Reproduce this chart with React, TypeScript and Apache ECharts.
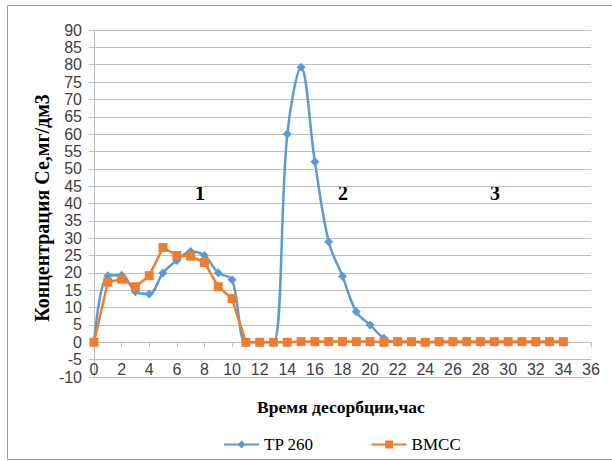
import React, { useEffect, useRef } from "react";
import * as echarts from "echarts";

const hours = [0, 1, 2, 3, 4, 5, 6, 7, 8, 9, 10, 11, 12, 13, 14, 15, 16, 17, 18, 19, 20, 21, 22, 23, 24, 25, 26, 27, 28, 29, 30, 31, 32, 33, 34];
const tp260 = [0, 19.2, 19.3, 14.6, 13.9, 20, 23.6, 26.2, 25, 20, 18, 0, 0, 0, 60, 79.3, 52, 29, 19, 8.8, 5, 1.2, 0, 0, 0, 0, 0, 0, 0, 0, 0, 0, 0, 0, 0];
const bmcc = [0, 17.3, 18.2, 16, 19.2, 27.3, 25, 24.8, 23, 16, 12.6, 0, 0, 0, 0, 0.2, 0.2, 0.2, 0.2, 0.2, 0.2, 0, 0.2, 0.2, 0, 0.2, 0.2, 0.2, 0.2, 0.2, 0.2, 0.2, 0.2, 0.2, 0.2];
const seriesNames = ["TP 260", "BMCC"];
const zoneLabels = ["1", "2", "3"];
const xTitle = "Время десорбции,час";
const yTitle = "Концентрация Се,мг/дм3";

export default function App() {
  const ref = useRef<HTMLDivElement>(null);
  useEffect(() => {
    if (!ref.current) return;
    const chart = echarts.init(ref.current, null, { renderer: "svg" });
    const gray = "#BFBFBF";
    const labelFont = { fontFamily: "Liberation Sans", fontSize: 16, color: "#404040" };
    chart.setOption({
      animation: false,
      backgroundColor: "#fff",
      textStyle: { fontFamily: "Liberation Serif" },
      grid: { left: 94, right: 21, top: 30, bottom: 84, containLabel: false },
      xAxis: {
        type: "value",
        min: 0,
        max: 36,
        interval: 2,
        axisLine: { show: true, onZero: true, lineStyle: { color: gray, width: 1 } },
        axisTick: { show: true, inside: false, length: 5, lineStyle: { color: gray } },
        axisLabel: { ...labelFont, margin: -16 },
        splitLine: { show: false },
      },
      yAxis: {
        type: "value",
        min: -10,
        max: 90,
        interval: 5,
        axisLine: { show: true, lineStyle: { color: gray, width: 1 } },
        axisTick: { show: true, inside: false, length: 5, lineStyle: { color: gray } },
        axisLabel: { ...labelFont, margin: 12 },
        splitLine: { show: true, lineStyle: { color: gray, width: 1 } },
      },
      legend: {
        left: 218,
        top: 431,
        itemWidth: 35,
        itemHeight: 10,
        itemGap: 57,
        textStyle: { fontFamily: "Liberation Serif", fontSize: 17, color: "#000" },
        data: seriesNames,
      },
      series: [
        {
          name: seriesNames[0],
          type: "line",
          data: hours.map((h, i) => [h, tp260[i]]),
          smooth: 0.35,
          symbol: "diamond",
          symbolSize: 9,
          itemStyle: { color: "#5B9BD5" },
          lineStyle: { color: "#5B9BD5", width: 2.5 },
        },
        {
          name: seriesNames[1],
          type: "line",
          data: hours.map((h, i) => [h, bmcc[i]]),
          symbol: "rect",
          symbolSize: 9,
          itemStyle: { color: "#ED7D31" },
          lineStyle: { color: "#ED7D31", width: 2.5 },
        },
      ],
      graphic: [
        {
          type: "rect",
          shape: { x: 7.5, y: 5.5, width: 620, height: 454 },
          style: { fill: "none", stroke: "#9E9E9E", lineWidth: 1 },
          z: -1,
        },
        {
          type: "text",
          x: 42,
          y: 208,
          rotation: Math.PI / 2,
          style: {
            text: yTitle,
            font: "bold 20px 'Liberation Serif'",
            fill: "#000",
            textAlign: "center",
            textVerticalAlign: "middle",
          },
        },
        {
          type: "text",
          x: 341,
          y: 407,
          style: {
            text: xTitle,
            font: "bold 17.5px 'Liberation Serif'",
            fill: "#000",
            textAlign: "center",
            textVerticalAlign: "middle",
          },
        },
        ...[200, 343, 495].map((x, i) => ({
          type: "text",
          x,
          y: 193,
          style: {
            text: zoneLabels[i],
            font: "bold 20px 'Liberation Serif'",
            fill: "#000",
            textAlign: "center",
            textVerticalAlign: "middle",
          },
        })),
      ],
    });
    return () => chart.dispose();
  }, []);
  return <div ref={ref} style={{ position: "fixed", left: 0, top: 0, width: 612, height: 461 }} />;
}
